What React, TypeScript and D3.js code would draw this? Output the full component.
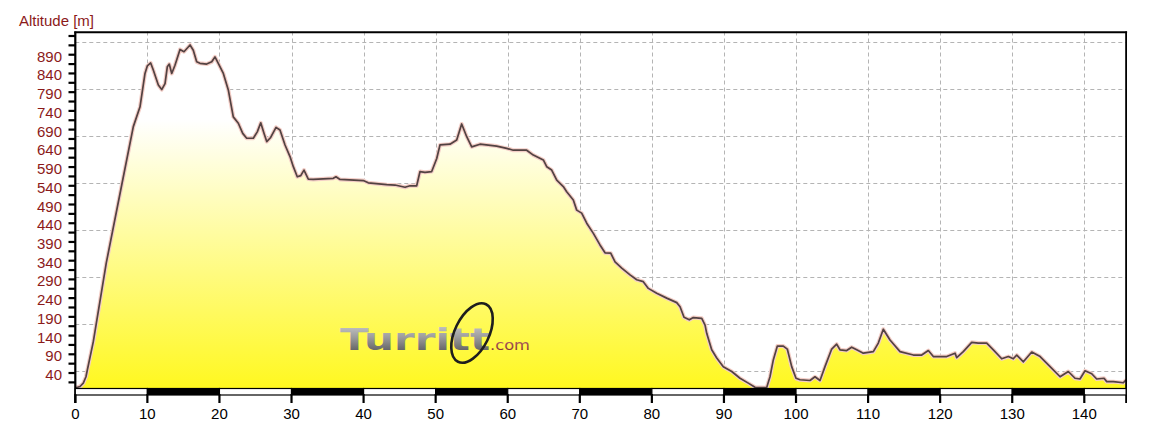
import React from 'react';
import * as d3 from 'd3';

// Distance along the route (km)
const distanceKm = [
  0, 0.65, 1.11, 1.48, 1.67, 2.5, 4.3, 6.44, 8.05, 8.98,
  9.67, 9.99, 10.46, 10.82, 11.52, 11.99, 12.45, 12.77, 13.04, 13.38,
  13.83, 14.53, 15.08, 15.92, 16.37, 16.84, 17.3, 18.23, 18.93, 19.38,
  19.84, 20.54, 21.23, 21.92, 22.62, 23.23, 23.78, 24.7, 25.25, 25.73,
  26.18, 26.56, 27.11, 27.85, 28.4, 29.1, 29.79, 30.25, 30.8, 31.28,
  31.73, 32.33, 33.02, 35.8, 36.17, 36.73, 39.96, 40.65, 43.21, 44.36,
  45.75, 46.44, 47.37, 47.83, 48.52, 49.45, 50.15, 50.6, 51.99, 52.92,
  53.61, 54.31, 55.0, 56.15, 58.47, 59.86, 60.77, 62.63, 63.55, 64.94,
  65.41, 66.1, 66.8, 67.71, 68.18, 69.1, 69.57, 70.26, 70.96, 71.88,
  72.8, 73.5, 74.29, 74.89, 75.82, 76.97, 77.9, 78.81, 79.51, 80.67,
  82.06, 83.45, 83.91, 84.46, 85.2, 85.75, 86.92, 87.38, 87.61, 88.3,
  89.0, 89.91, 91.08, 92.23, 93.38, 94.31, 95.93, 96.39, 96.85, 97.41,
  98.24, 98.79, 99.4, 100.0, 100.56, 101.94, 102.63, 103.33, 104.02, 104.95,
  105.64, 106.1, 107.03, 107.72, 108.42, 109.34, 110.73, 111.42, 112.11, 113.04,
  114.43, 116.28, 117.44, 118.36, 119.05, 120.91, 122.06, 122.3, 123.21, 124.38,
  125.3, 126.46, 127.38, 128.54, 129.46, 130.15, 130.63, 131.55, 132.71, 133.87,
  135.25, 136.64, 137.78, 138.71, 139.4, 140.1, 141.03, 141.72, 142.74, 143.11,
  144.03, 145.42, 145.8,
];

// Altitude (m)
const altitudeM = [
  0, 4, 13, 30, 48, 124, 334, 542, 698, 751,
  840, 860, 868, 849, 809, 797, 813, 858, 865, 840,
  862, 904, 898, 916, 902, 871, 867, 865, 871, 884,
  867, 840, 796, 724, 707, 680, 667, 667, 684, 708,
  680, 658, 669, 696, 689, 649, 618, 591, 564, 567,
  582, 558, 557, 560, 564, 557, 554, 548, 543, 542,
  536, 540, 540, 578, 576, 578, 613, 649, 651, 662,
  705, 671, 644, 651, 646, 640, 635, 635, 622, 609,
  591, 582, 555, 538, 524, 502, 475, 467, 440, 413,
  382, 361, 360, 337, 320, 302, 289, 284, 266, 253,
  240, 228, 217, 189, 182, 188, 186, 168, 146, 102,
  80, 57, 44, 26, 13, 2, 1, 30, 75, 112,
  112, 104, 57, 26, 22, 20, 30, 20, 57, 104,
  117, 102, 100, 109, 102, 93, 97, 120, 157, 128,
  97, 88, 88, 100, 84, 84, 93, 81, 97, 122,
  120, 120, 102, 78, 84, 78, 88, 70, 96, 84,
  57, 30, 44, 26, 24, 46, 38, 24, 26, 17,
  17, 14, 22,
];

const xDomainKm = [0, 145.8];
const yDomainM = [0, 952];
const xTickLabels = [0, 10, 20, 30, 40, 50, 60, 70, 80, 90, 100, 110, 120, 130, 140];
const yTickLabels = [40, 90, 140, 190, 240, 290, 340, 390, 440, 490, 540, 590, 640, 690, 740, 790, 840, 890];
const yMinorTicks = [15, 40, 65, 90, 115, 140, 165, 190, 215, 240, 265, 290, 315, 340, 365, 390, 415, 440, 465, 490, 515, 540, 565, 590, 615, 640, 665, 690, 715, 740, 765, 790, 815, 840, 865, 890, 915, 940];
const hGridM = [46, 171, 297, 422, 548, 673, 799, 924];
const vGridKm = [10, 20, 30, 40, 50, 60, 70, 80, 90, 100, 110, 120, 130, 140];
const scaleBarSegmentsKm = [0, 10, 20, 30, 40, 50, 60, 70, 80, 90, 100, 110, 120, 130, 140];

const FONT = '"Liberation Sans", Arial, sans-serif';
const RED = '#8b1a1a';

export default function App() {
  const left = 75.3;
  const right = 1126.1;
  const top = 31.5;
  const bottom = 388;

  const x = d3.scaleLinear().domain(xDomainKm).range([left, right]);
  const y = d3.scaleLinear().domain(yDomainM).range([bottom, top]);

  const pts: [number, number][] = distanceKm.map((d, i) => [d, altitudeM[i]]);
  const area = d3
    .area<[number, number]>()
    .x((d) => x(d[0]))
    .y0(bottom)
    .y1((d) => y(d[1]));
  const line = d3
    .line<[number, number]>()
    .x((d) => x(d[0]))
    .y((d) => y(d[1]));

  return (
    <svg
      width={1150}
      height={435}
      style={{ position: 'absolute', left: 0, top: 0, background: '#fff' }}
    >
      <defs>
        <linearGradient id="fillGrad" gradientUnits="userSpaceOnUse" x1={0} y1={120} x2={0} y2={bottom}>
          <stop offset="0" stopColor="#ffffff" />
          <stop offset="1" stopColor="#fff820" />
        </linearGradient>
        <linearGradient id="logoGrad" x1="0" y1="0" x2="0" y2="1">
          <stop offset="0" stopColor="#d0d0d0" />
          <stop offset="0.45" stopColor="#9a9a9a" />
          <stop offset="1" stopColor="#4a4a4a" />
        </linearGradient>
        <linearGradient id="comGrad" x1="0" y1="0" x2="0" y2="1">
          <stop offset="0" stopColor="#c07070" />
          <stop offset="1" stopColor="#7a2a2a" />
        </linearGradient>
      </defs>

      {/* grid */}
      <g stroke="#b4b4b4" strokeWidth={1} strokeDasharray="4 3">
        {hGridM.map((v) => (
          <line key={'h' + v} x1={left} x2={right} y1={Math.round(y(v)) + 0.5} y2={Math.round(y(v)) + 0.5} />
        ))}
        {vGridKm.map((v) => (
          <line key={'v' + v} x1={Math.round(x(v)) + 0.5} x2={Math.round(x(v)) + 0.5} y1={top} y2={bottom} />
        ))}
      </g>

      {/* profile */}
      <path d={area(pts) || ''} fill="url(#fillGrad)" />
      <path d={line(pts) || ''} fill="none" stroke="#f3cdc6" strokeWidth={4} strokeLinejoin="round" />
      <path d={line(pts) || ''} fill="none" stroke="#524242" strokeWidth={1.7} strokeLinejoin="round" />

      {/* watermark */}
      <g>
        <text
          x={340}
          y={350}
          fontFamily='"DejaVu Sans", sans-serif'
          fontWeight="bold"
          fontSize={30}
          textLength={150}
          lengthAdjust="spacingAndGlyphs"
          fill="url(#logoGrad)"
        >
          Turritt
        </text>
        <ellipse
          cx={472}
          cy={333}
          rx={17}
          ry={32}
          fill="none"
          stroke="#1e1e1e"
          strokeWidth={2.6}
          transform="rotate(26 472 333)"
        />
        <text
          x={490}
          y={350}
          fontFamily='"DejaVu Sans", sans-serif'
          fontSize={14}
          textLength={40}
          lengthAdjust="spacingAndGlyphs"
          fill="url(#comGrad)"
        >
          .com
        </text>
      </g>

      {/* frame */}
      <line x1={left - 1} x2={right + 1} y1={32.3} y2={32.3} stroke="#000" strokeWidth={2} />
      <line x1={right} x2={right} y1={31.5} y2={403} stroke="#000" strokeWidth={1.8} />
      <line x1={left} x2={left} y1={31.5} y2={403} stroke="#000" strokeWidth={2.2} />

      {/* y ticks */}
      <g stroke="#000" strokeWidth={2.2}>
        {yMinorTicks.map((v) => (
          <line key={'t' + v} x1={68.5} x2={left} y1={y(v)} y2={y(v)} />
        ))}
      </g>
      <g fontFamily={FONT} fontSize={15} fill={RED} textAnchor="end">
        {yTickLabels.map((v) => (
          <text key={'l' + v} x={62} y={y(v) + 7}>
            {v}
          </text>
        ))}
      </g>
      <text x={19} y={26} fontFamily={FONT} fontSize={15} fill={RED}>
        Altitude [m]
      </text>

      {/* x scale bar */}
      {scaleBarSegmentsKm.map((k) => {
        const x0 = x(k);
        const x1 = x(Math.min(k + 10, xDomainKm[1]));
        const black = (k / 10) % 2 === 1;
        return (
          <rect
            key={'s' + k}
            x={x0}
            y={388.5}
            width={x1 - x0}
            height={6.5}
            fill={black ? '#000' : '#fff'}
            stroke="#000"
            strokeWidth={1.2}
          />
        );
      })}
      <g stroke="#000" strokeWidth={2.2}>
        {xTickLabels.map((v) => (
          <line key={'xt' + v} x1={x(v)} x2={x(v)} y1={394} y2={403} />
        ))}
      </g>
      <g fontFamily={FONT} fontSize={15} fill="#000" textAnchor="middle">
        {xTickLabels.map((v) => (
          <text key={'xl' + v} x={x(v)} y={419}>
            {v}
          </text>
        ))}
      </g>
    </svg>
  );
}
